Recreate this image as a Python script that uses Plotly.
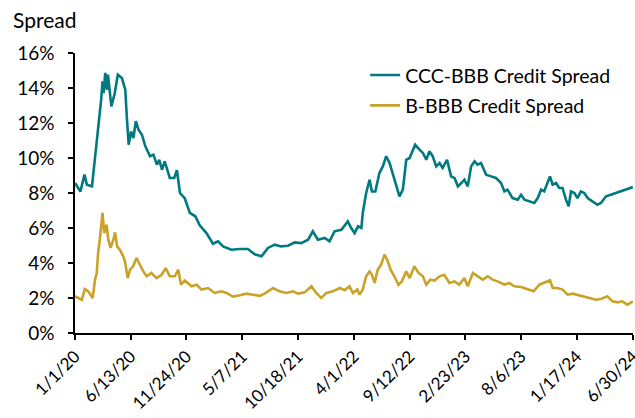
import plotly.graph_objects as go

# CCC minus BBB option-adjusted spread (percent)
ccc_dates = [
    "2020-01-01", "2020-01-17", "2020-01-29", "2020-02-05", "2020-02-20", "2020-02-28",
    "2020-03-06", "2020-03-11", "2020-03-18", "2020-03-22", "2020-03-25", "2020-03-30",
    "2020-04-04", "2020-04-07", "2020-04-17", "2020-04-27", "2020-05-06", "2020-05-18",
    "2020-05-28", "2020-06-02", "2020-06-07", "2020-06-14", "2020-06-21", "2020-06-28",
    "2020-07-06", "2020-07-16", "2020-07-26", "2020-08-09", "2020-08-19", "2020-08-29",
    "2020-09-05", "2020-09-13", "2020-09-21", "2020-09-27", "2020-10-06", "2020-10-19",
    "2020-10-27", "2020-11-05", "2020-11-19", "2020-12-04", "2020-12-20", "2021-01-02",
    "2021-01-22", "2021-02-10", "2021-02-25", "2021-03-12", "2021-04-05", "2021-04-30",
    "2021-05-24", "2021-06-13", "2021-07-03", "2021-07-22", "2021-08-11", "2021-08-30",
    "2021-09-19", "2021-10-09", "2021-10-28", "2021-11-17", "2021-12-01", "2021-12-16",
    "2022-01-05", "2022-01-19", "2022-02-03", "2022-02-23", "2022-03-05", "2022-03-14",
    "2022-03-24", "2022-04-03", "2022-04-13", "2022-04-23", "2022-04-27", "2022-05-07",
    "2022-05-17", "2022-05-24", "2022-06-03", "2022-06-15", "2022-06-25", "2022-07-05",
    "2022-07-15", "2022-07-24", "2022-08-03", "2022-08-13", "2022-08-23", "2022-09-02",
    "2022-09-12", "2022-09-21", "2022-09-28", "2022-10-11", "2022-10-21", "2022-10-31",
    "2022-11-09", "2022-11-19", "2022-11-29", "2022-12-09", "2022-12-18", "2022-12-31",
    "2023-01-12", "2023-01-22", "2023-02-01", "2023-02-11", "2023-02-20", "2023-03-02",
    "2023-03-12", "2023-03-22", "2023-03-31", "2023-04-10", "2023-04-25", "2023-05-10",
    "2023-05-24", "2023-06-08", "2023-06-18", "2023-06-27", "2023-07-12", "2023-07-27",
    "2023-08-06", "2023-08-16", "2023-08-30", "2023-09-14", "2023-09-24", "2023-10-04",
    "2023-10-13", "2023-10-23", "2023-10-30", "2023-11-07", "2023-11-17", "2023-11-26",
    "2023-12-06", "2023-12-16", "2023-12-24", "2023-12-31", "2024-01-10", "2024-01-19",
    "2024-01-29", "2024-02-08", "2024-02-18", "2024-03-03", "2024-03-18", "2024-03-28",
    "2024-04-12", "2024-04-26", "2024-05-11", "2024-05-26", "2024-06-09", "2024-06-24",
    "2024-06-30",
]
ccc_spread = [
    8.57, 8.09, 9.05, 8.47, 8.38, 9.90,
    10.86, 12.00, 13.33, 14.38, 13.70, 14.86,
    13.90, 14.76, 12.95, 13.70, 14.76, 14.57,
    13.90, 12.19, 10.76, 11.52, 11.14, 12.10,
    11.62, 11.33, 10.67, 10.10, 10.19, 9.62,
    9.90, 9.33, 9.80, 9.43, 8.86, 8.86,
    9.30, 8.00, 7.70, 6.86, 6.67, 6.15,
    5.71, 5.10, 5.24, 4.95, 4.76, 4.80,
    4.80, 4.50, 4.38, 4.86, 5.05, 4.95,
    4.99, 5.18, 5.14, 5.33, 5.81, 5.33,
    5.43, 5.24, 5.81, 5.90, 6.19, 6.38,
    6.00, 5.71, 6.10, 6.00, 6.86, 8.00,
    8.76, 8.09, 8.09, 9.14, 9.52, 10.10,
    9.71, 9.14, 8.38, 7.81, 8.19, 9.90,
    10.00, 10.38, 10.76, 10.48, 10.29, 9.90,
    10.38, 10.10, 9.52, 9.71, 9.43, 9.90,
    8.95, 8.86, 8.38, 8.57, 8.76, 8.38,
    9.52, 9.81, 9.62, 9.71, 9.05, 8.95,
    8.86, 8.57, 8.09, 8.19, 7.71, 7.62,
    7.90, 7.62, 7.52, 7.43, 7.71, 8.19,
    8.09, 8.57, 8.95, 8.48, 8.57, 8.29,
    8.29, 7.62, 7.24, 8.09, 8.00, 7.71,
    8.09, 8.00, 7.71, 7.52, 7.33, 7.43,
    7.81, 7.90, 8.00, 8.09, 8.19, 8.29,
    8.34,
]

# B minus BBB option-adjusted spread (percent)
b_dates = [
    "2020-01-01", "2020-01-21", "2020-01-30", "2020-02-09", "2020-02-22", "2020-02-29",
    "2020-03-05", "2020-03-09", "2020-03-14", "2020-03-22", "2020-03-27", "2020-04-03",
    "2020-04-08", "2020-04-15", "2020-04-23", "2020-04-28", "2020-05-04", "2020-05-12",
    "2020-05-22", "2020-05-27", "2020-06-04", "2020-06-11", "2020-06-20", "2020-06-30",
    "2020-07-10", "2020-07-20", "2020-07-30", "2020-08-13", "2020-08-28", "2020-09-12",
    "2020-09-24", "2020-10-06", "2020-10-21", "2020-10-31", "2020-11-08", "2020-11-19",
    "2020-12-09", "2020-12-24", "2021-01-07", "2021-01-27", "2021-02-15", "2021-03-07",
    "2021-03-22", "2021-04-10", "2021-04-30", "2021-05-20", "2021-06-08", "2021-06-28",
    "2021-07-12", "2021-07-22", "2021-08-06", "2021-08-25", "2021-09-14", "2021-10-04",
    "2021-10-18", "2021-11-07", "2021-11-27", "2021-12-11", "2021-12-26", "2022-01-10",
    "2022-01-29", "2022-02-18", "2022-03-05", "2022-03-19", "2022-03-29", "2022-04-11",
    "2022-04-18", "2022-04-27", "2022-05-07", "2022-05-17", "2022-05-24", "2022-06-01",
    "2022-06-10", "2022-06-20", "2022-06-30", "2022-07-08", "2022-07-18", "2022-07-29",
    "2022-08-10", "2022-08-20", "2022-09-02", "2022-09-12", "2022-09-26", "2022-10-08",
    "2022-10-21", "2022-10-31", "2022-11-12", "2022-11-24", "2022-12-09", "2022-12-23",
    "2023-01-07", "2023-01-22", "2023-02-05", "2023-02-20", "2023-03-02", "2023-03-17",
    "2023-03-31", "2023-04-15", "2023-04-30", "2023-05-14", "2023-05-29", "2023-06-18",
    "2023-07-02", "2023-07-17", "2023-08-06", "2023-08-25", "2023-09-12", "2023-09-29",
    "2023-10-13", "2023-10-30", "2023-11-07", "2023-11-21", "2023-12-06", "2023-12-21",
    "2024-01-05", "2024-01-19", "2024-02-03", "2024-02-23", "2024-03-13", "2024-03-28",
    "2024-04-16", "2024-05-01", "2024-05-16", "2024-05-30", "2024-06-14", "2024-06-30",
]
b_spread = [
    2.10, 1.90, 2.51, 2.38, 2.00, 3.05,
    3.43, 4.57, 5.33, 6.86, 5.71, 6.19,
    5.33, 4.86, 5.33, 5.75, 4.95, 4.76,
    4.38, 4.10, 3.14, 3.62, 3.81, 4.29,
    3.90, 3.52, 3.24, 3.43, 3.14, 3.33,
    3.71, 3.24, 3.24, 3.62, 2.76, 3.00,
    2.67, 2.76, 2.48, 2.57, 2.29, 2.38,
    2.29, 2.08, 2.16, 2.25, 2.19, 2.12,
    2.25, 2.38, 2.57, 2.38, 2.29, 2.38,
    2.25, 2.32, 2.67, 2.29, 2.00, 2.29,
    2.38, 2.57, 2.45, 2.67, 2.29, 2.48,
    2.19, 2.48, 3.24, 3.52, 3.33, 2.86,
    3.62, 3.90, 4.48, 4.19, 3.62, 3.24,
    2.76, 2.95, 3.52, 3.14, 3.81, 3.43,
    3.24, 2.76, 3.05, 3.00, 3.24, 3.33,
    2.86, 2.95, 2.76, 3.14, 2.67, 3.43,
    3.24, 3.05, 3.24, 3.05, 2.95, 2.76,
    2.86, 2.67, 2.63, 2.51, 2.38, 2.76,
    2.86, 3.01, 2.57, 2.57, 2.48, 2.19,
    2.25, 2.19, 2.10, 2.00, 1.90, 1.94,
    2.10, 1.81, 1.75, 1.81, 1.62, 1.81,
]

tick_dates = [
    "2020-01-01", "2020-06-13", "2020-11-24", "2021-05-07", "2021-10-18", "2022-04-01",
    "2022-09-12", "2023-02-23", "2023-08-06", "2024-01-17", "2024-06-30",
]
tick_labels = [
    "1/1/20", "6/13/20", "11/24/20", "5/7/21", "10/18/21", "4/1/22",
    "9/12/22", "2/23/23", "8/6/23", "1/17/24", "6/30/24",
]
y_ticks = [0, 2, 4, 6, 8, 10, 12, 14, 16]

TEAL = "#007A80"
GOLD = "#C9A227"
FONT = "Lato"

fig = go.Figure()
fig.add_trace(go.Scatter(
    x=ccc_dates, y=ccc_spread, mode="lines", name="CCC-BBB Credit Spread",
    line=dict(color=TEAL, width=2.6), legendgroup="a",
))
fig.add_trace(go.Scatter(
    x=b_dates, y=b_spread, mode="lines", name="B-BBB Credit Spread",
    line=dict(color=GOLD, width=2.6), legendgroup="b",
))

fig.update_layout(
    width=635, height=418,
    margin=dict(l=75, r=2, t=53, b=85, autoexpand=False),
    paper_bgcolor="white", plot_bgcolor="white",
    font=dict(family=FONT, color="black", size=17),
    showlegend=True,
    legend=dict(
        x=0.52, y=0.99, xanchor="left", yanchor="top",
        bgcolor="rgba(0,0,0,0)", font=dict(size=19.5, family=FONT),
        traceorder="grouped", tracegroupgap=2,
    ),
    annotations=[dict(
        text="Spread", xref="paper", yref="paper", x=-0.115, y=1.12,
        xanchor="left", yanchor="middle", showarrow=False,
        font=dict(size=21, family=FONT, color="black"),
    )],
)

fig.update_xaxes(
    type="date", range=["2020-01-01", "2024-06-30 10:00"],
    tickmode="array", tickvals=tick_dates, ticktext=tick_labels,
    tickangle=-45, tickfont=dict(size=17, family=FONT),
    ticklabeloverflow="allow",
    showline=True, linecolor="black", linewidth=1.5,
    ticks="outside", ticklen=5, tickwidth=1.5, tickcolor="black",
    showgrid=False, zeroline=False,
)
fig.update_yaxes(
    range=[0, 16], tickmode="array", tickvals=y_ticks,
    ticktext=[f"{v}%" for v in y_ticks],
    tickfont=dict(size=19, family=FONT), ticklabelstandoff=10,
    showline=True, linecolor="black", linewidth=1.5,
    ticks="outside", ticklen=5, tickwidth=1.5, tickcolor="black",
    showgrid=False, zeroline=False,
)

fig.write_html("out.html")
